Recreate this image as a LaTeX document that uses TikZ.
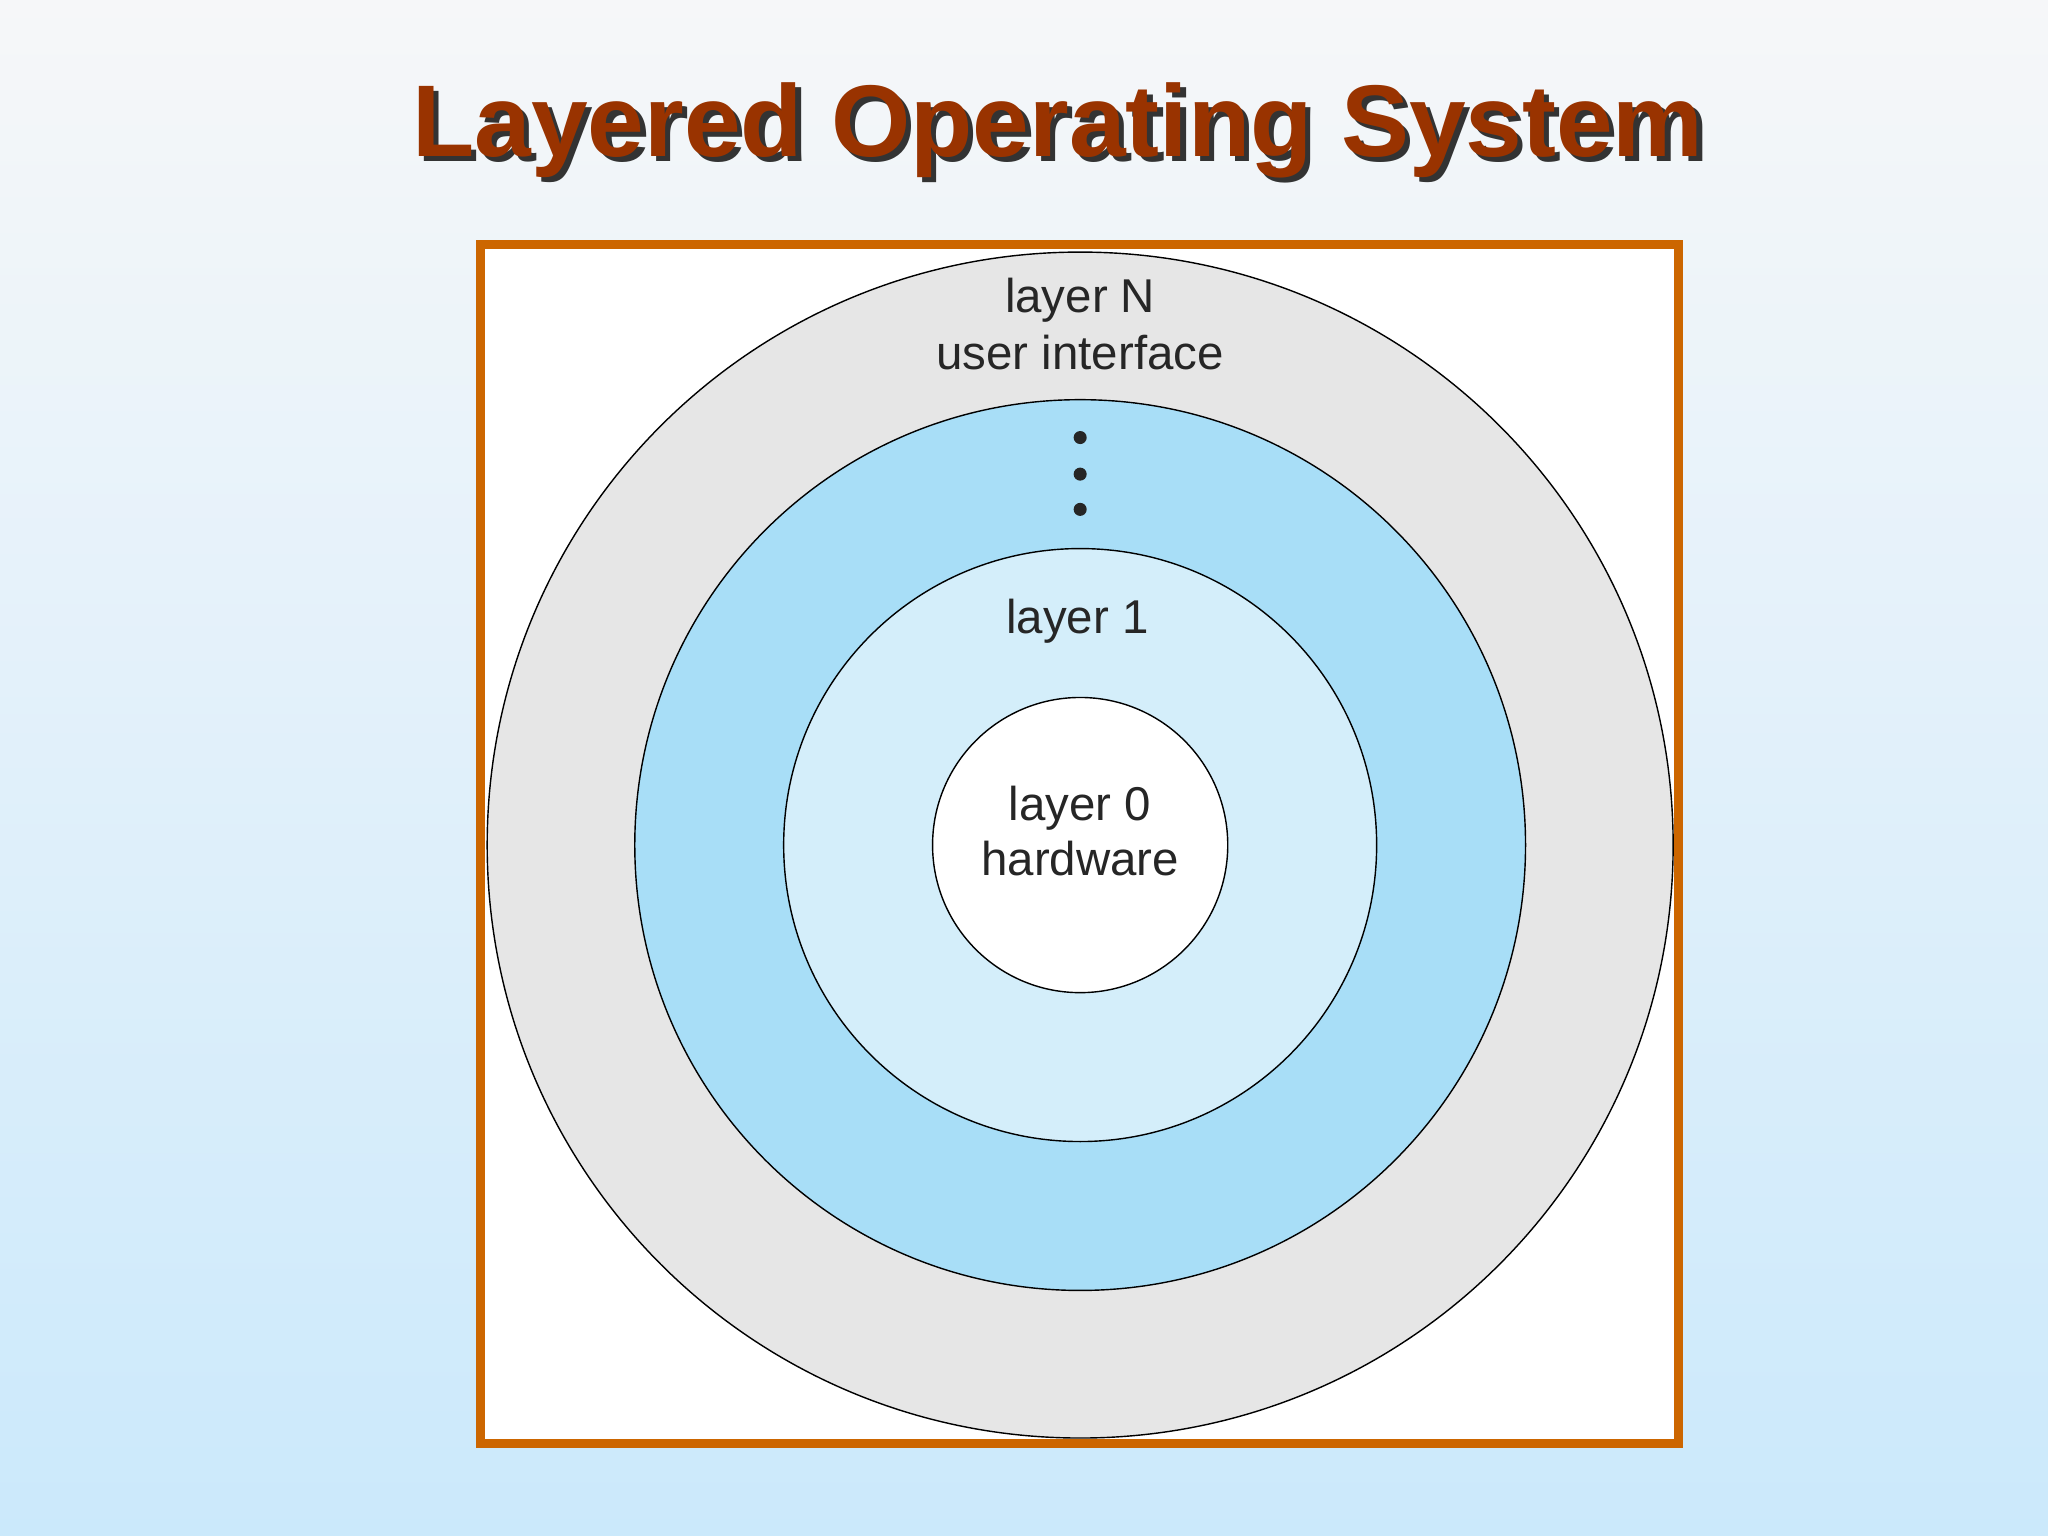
\documentclass[tikz,border=0pt]{standalone}
\usepackage{fontspec}
\setmainfont{Liberation Sans}
\definecolor{bgtop}{HTML}{F6F7F9}
\definecolor{bgbot}{HTML}{CBE9FB}
\definecolor{titlec}{HTML}{993300}
\definecolor{framec}{HTML}{CC6600}
\definecolor{ringN}{HTML}{E6E6E6}
\definecolor{ringM}{HTML}{A8DEF7}
\definecolor{ringOne}{HTML}{D4EEFA}
\begin{document}
\begin{tikzpicture}[x=0.013061cm,y=-0.013061cm,
  ring/.style={draw=black,line width=0.4pt},
  lbl/.style={font=\fontsize{13.5}{16}\selectfont,text=black!85,inner sep=0pt}]
\shade[top color=bgtop,bottom color=bgbot] (0,0) rectangle (1568,1176);
\useasboundingbox (0,0) rectangle (1568,1176);
\node[font=\bfseries\fontsize{29}{34}\selectfont,text=black!80] (shadow) at (814,104) {Layered Operating System};
\node[font=\bfseries\fontsize{29}{34}\selectfont,text=titlec] (title) at (810,100) {Layered Operating System};
\draw[framec,fill=white,line width=2.6pt] (368,187) rectangle (1285,1105);
\coordinate (c) at (827,647);
\fill[ringN] (c) circle[radius=454];
\draw[ring] (c) circle[radius=454];
\fill[ringM] (c) circle[radius=341];
\draw[ring] (c) circle[radius=341];
\fill[ringOne] (c) circle[radius=227];
\draw[ring] (c) circle[radius=227];
\fill[white] (c) circle[radius=113];
\draw[ring] (c) circle[radius=113];
\node[lbl] (ln) at (827,230) {layer N};
\node[lbl] (ui) at (827,270) {user interface};
\foreach \y in {335,363,390} \fill[black!85] (827,\y) circle[radius=5];
\node[lbl] (l1) at (825,476) {layer 1};
\node[lbl] (l0) at (827,619) {layer 0};
\node[lbl] (hw) at (827,657) {hardware};
\end{tikzpicture}
\end{document}
